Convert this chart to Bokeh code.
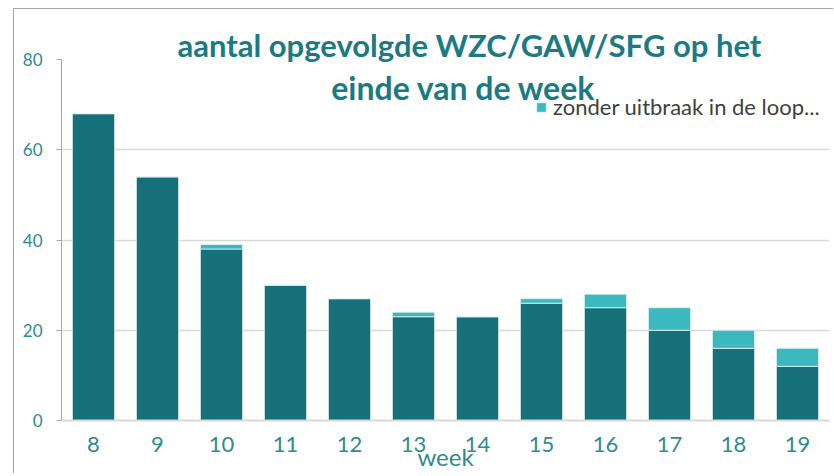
from bokeh.plotting import figure
from bokeh.models import Label, Legend, LegendItem, ColumnDataSource, FixedTicker, Title
from bokeh.embed import file_html
from bokeh.resources import INLINE

weeks = ["8", "9", "10", "11", "12", "13", "14", "15", "16", "17", "18", "19"]
met_uitbraak = [68, 54, 38, 30, 27, 23, 23, 26, 25, 20, 16, 12]
zonder_uitbraak = [0, 0, 1, 0, 0, 1, 0, 1, 3, 5, 4, 4]
y_ticks = [0, 20, 40, 60, 80]

title_lines = ["aantal opgevolgde WZC/GAW/SFG op het", "einde van de week"]
legend_label = "zonder uitbraak in de loop..."

DARK = "#167079"
LIGHT = "#3CB8BF"
TEAL_TXT = "#1B7A82"
TICK_TXT = "#2E8A92"
FONT = "Lato"

src = ColumnDataSource(dict(week=weeks, met=met_uitbraak, zonder=zonder_uitbraak))

p = figure(x_range=weeks, y_range=(0, 80), frame_width=768, frame_height=361,
           output_backend="svg", toolbar_location=None,
           min_border_left=47, min_border_right=4, min_border_top=50, min_border_bottom=40)
p.styles = {"margin-left": "13px", "margin-top": "8px",
            "border-top": "1px solid #A6A6A6", "border-left": "1px solid #A6A6A6"}

rs = p.vbar_stack(["met", "zonder"], x="week", width=0.66, color=[DARK, LIGHT],
                  line_color="#E8F4F5", line_width=0.8, source=src)

p.outline_line_color = None
p.xgrid.grid_line_color = None
p.ygrid.grid_line_color = "#D9D9D9"
p.ygrid.grid_line_width = 1.5
p.ygrid.ticker = FixedTicker(ticks=y_ticks)

p.yaxis.ticker = FixedTicker(ticks=y_ticks)
p.yaxis.axis_line_color = "#A6A6A6"
p.yaxis.major_tick_line_color = "#A6A6A6"
p.yaxis.major_tick_out = 5
p.yaxis.major_tick_in = 0
p.yaxis.minor_tick_line_color = None
p.yaxis.major_label_text_font = FONT
p.yaxis.major_label_text_font_size = "17px"
p.yaxis.major_label_text_color = TICK_TXT
p.yaxis.major_label_standoff = 14

p.xaxis.axis_line_color = "#D9D9D9"
p.xaxis.axis_line_width = 2
p.xaxis.major_tick_line_color = None
p.xaxis.minor_tick_line_color = None
p.xaxis.major_label_text_font = FONT
p.xaxis.major_label_text_font_size = "22px"
p.xaxis.major_label_text_color = TICK_TXT
p.xaxis.major_label_standoff = 10
p.xaxis.axis_label = "week"
p.xaxis.axis_label_text_font = FONT
p.xaxis.axis_label_text_font_size = "24px"
p.xaxis.axis_label_text_font_style = "normal"
p.xaxis.axis_label_text_color = TICK_TXT
p.xaxis.axis_label_standoff = -13

t1 = Title(text=title_lines[0], align="left", offset=116, standoff=-9,
           text_font=FONT, text_font_size="31px", text_font_style="bold",
           text_color=TEAL_TXT)
p.add_layout(t1, "above")

p.add_layout(Label(x=402, y=333, x_units="screen", y_units="screen", text=title_lines[1],
                   text_align="center", text_baseline="middle",
                   text_font=FONT, text_font_size="32px", text_font_style="bold",
                   text_color=TEAL_TXT))

legend = Legend(items=[LegendItem(label=legend_label, renderers=[rs[1]])],
                location=(474, 300), orientation="vertical",
                background_fill_alpha=0, border_line_color=None,
                label_text_font=FONT, label_text_font_size="22px", label_text_color="#404040",
                glyph_width=12, glyph_height=12, padding=0, margin=0, spacing=0,
                label_standoff=6)
p.add_layout(legend)

open("out.html", "w").write(file_html(p, INLINE))
